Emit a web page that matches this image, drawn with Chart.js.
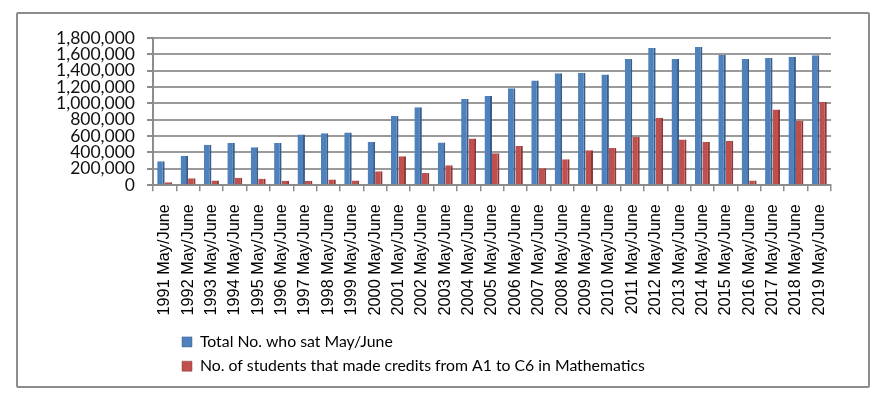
<!DOCTYPE html>
<html>
<head>
<meta charset="utf-8">
<script src="https://cdn.jsdelivr.net/npm/chart.js@4.4.1/dist/chart.umd.min.js"></script>
<style>
  html, body { margin: 0; padding: 0; background: #fff; }
  #wrap { position: relative; width: 884px; height: 397px; }
  #frame { position: absolute; left: 16px; top: 12px; width: 854px; height: 376px;
           box-sizing: border-box; border: 2px solid #8c8c8c; border-radius: 2px; pointer-events: none; }
  canvas { position: absolute; left: 0; top: 0; }
</style>
</head>
<body>
<div id="wrap">
  <canvas id="c" width="884" height="397"></canvas>
  <div id="frame"></div>
</div>
<script>
// ---- data ----
const years = [1991,1992,1993,1994,1995,1996,1997,1998,1999,2000,2001,2002,2003,2004,2005,
               2006,2007,2008,2009,2010,2011,2012,2013,2014,2015,2016,2017,2018,2019];
const categories = years.map(y => y + ' May/June');
const seriesNames = ['Total No. who sat May/June',
                     'No. of students that made credits from A1 to C6 in Mathematics'];
const totalSat = [292000, 361000, 496000, 517000, 464000, 517000, 619000, 636000, 644000, 529000,
                  846000, 952000, 521000, 1055000, 1092000, 1185000, 1280000, 1370000, 1375000, 1354000,
                  1542000, 1678000, 1542000, 1690000, 1592000, 1542000, 1555000, 1572000, 1588000];
const credits  = [37000, 86000, 58000, 90000, 78000, 53000, 53000, 70000, 58000, 172000,
                  353000, 148000, 243000, 570000, 390000, 480000, 206000, 316000, 427000, 455000,
                  591000, 825000, 558000, 529000, 545000, 58000, 927000, 788000, 1018000];
const yMin = 0, yMax = 1800000, yStep = 200000;

// legend wrapped onto two rows, left aligned
const legendWrap = {
  id: 'legendWrap',
  afterLayout(chart) {
    const lg = chart.legend;
    if (!lg) return;
    lg.left = 173.5;
    lg.right = 720;
    lg.top = 325.5;
    lg.bottom = 394;
    lg.width = lg.right - lg.left;
    lg.height = lg.bottom - lg.top;
  }
};

new Chart(document.getElementById('c'), {
  type: 'bar',
  data: {
    labels: categories,
    datasets: [
      { label: seriesNames[0], data: totalSat, backgroundColor: '#4f81bd',
        borderColor: '#385d8a', borderWidth: { right: 2, left: 0, top: 0, bottom: 0 }, borderSkipped: false },
      { label: seriesNames[1], data: credits, backgroundColor: '#c0504d',
        borderColor: '#8c3836', borderWidth: { right: 2, left: 0, top: 0, bottom: 0 }, borderSkipped: false }
    ]
  },
  options: {
    responsive: false,
    animation: false,
    devicePixelRatio: 1,
    layout: { padding: { top: 38, left: 0, right: 53, bottom: 0 } },
    datasets: { bar: { categoryPercentage: 0.64, barPercentage: 1.0 } },
    plugins: {
      tooltip: { enabled: false },
      legend: {
        position: 'bottom',
        align: 'start',
        labels: {
          boxWidth: 10, boxHeight: 10, padding: 8.5, color: '#000',
          font: { family: 'Lato', size: 15.8 }
        }
      }
    },
    scales: {
      x: {
        afterFit(s) { s.height = 177.5; },
        grid: { display: true, drawOnChartArea: false, drawTicks: true, tickLength: 6,
                color: '#8c8c8c', lineWidth: 1.5, offset: true },
        border: { display: true, color: '#8c8c8c', width: 2 },
        ticks: { autoSkip: false, minRotation: 90, maxRotation: 90, padding: 13, color: '#000',
                 font: { family: 'Liberation Sans', size: 16.3 } }
      },
      y: {
        min: yMin, max: yMax,
        afterFit(s) { s.width = 153; },
        grid: { color: '#9a9a9a', lineWidth: 2, tickLength: 6, tickColor: '#8c8c8c' },
        border: { display: true, color: '#8c8c8c', width: 2 },
        ticks: { stepSize: yStep, autoSkip: false, padding: 12, color: '#111',
                 font: { family: 'Lato', size: 17.5, lineHeight: 1.0 },
                 callback: v => Number(v).toLocaleString('en-US') }
      }
    }
  },
  plugins: [legendWrap]
});
</script>
</body>
</html>
